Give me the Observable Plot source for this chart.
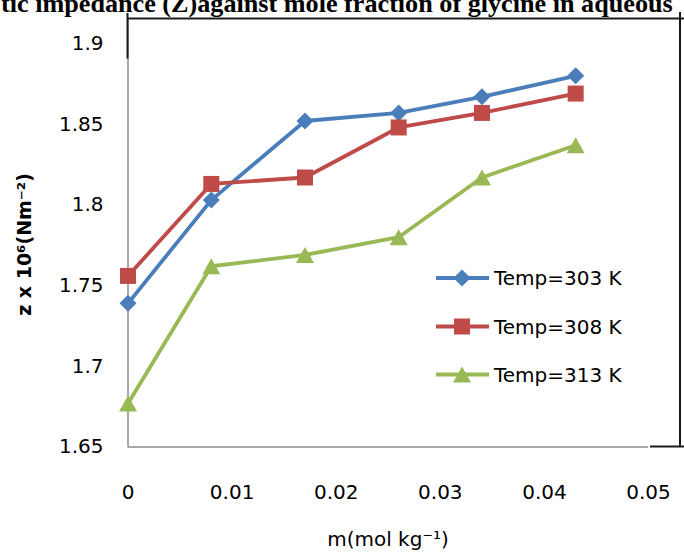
<!DOCTYPE html>
<html>
<head>
<meta charset="utf-8">
<script src="https://cdn.jsdelivr.net/npm/d3@7"></script>
<script src="https://cdn.jsdelivr.net/npm/@observablehq/plot@0.6"></script>
<style>
  body { margin: 0; background: #fff; }
  #chart { position: relative; width: 684px; height: 554px; overflow: hidden; }
</style>
</head>
<body>
<div id="chart"></div>
<script>
// Molality of glycine (mol kg^-1)
const molality = [0, 0.008, 0.017, 0.026, 0.034, 0.043];

// Acoustic impedance z x 10^6 (N m^-2) at each temperature
const z303 = [1.739, 1.803, 1.852, 1.857, 1.867, 1.880];
const z308 = [1.756, 1.813, 1.817, 1.848, 1.857, 1.869];
const z313 = [1.677, 1.762, 1.769, 1.780, 1.817, 1.837];

const seriesNames = ["Temp=303 K", "Temp=308 K", "Temp=313 K"];
const seriesColors = ["#4A7EBB", "#BE4B48", "#98B954"];

const xTicks = [0, 0.01, 0.02, 0.03, 0.04, 0.05];
const yTicks = [1.65, 1.7, 1.75, 1.8, 1.85, 1.9];

const titleText = "tic impedance (Z)against mole fraction of glycine in aqueous";
const yLabel = "z x 10\u2076(Nm\u207B\u00B2)";
const xLabel = "m(mol kg\u207B\u00B9)";

// Marker shapes, centred on their bounding box
const diamond = {draw(ctx) { const h = 8.5; ctx.moveTo(0, -h); ctx.lineTo(h, 0); ctx.lineTo(0, h); ctx.lineTo(-h, 0); ctx.closePath(); }};
const square = {draw(ctx) { const h = 8; ctx.rect(-h, -h, 2 * h, 2 * h); }};
const triangle = {draw(ctx) { ctx.moveTo(0, -8); ctx.lineTo(9, 8); ctx.lineTo(-9, 8); ctx.closePath(); }};
const symbols = [diamond, square, triangle];

const seriesValues = [z303, z308, z313];
const rows = seriesValues.flatMap((vals, i) =>
  vals.map((z, j) => ({series: seriesNames[i], m: molality[j], z}))
);

const axisGray = "#8c8c8c";
const font = "DejaVu Sans";

const plot = Plot.plot({
  width: 684,
  height: 554,
  marginLeft: 127.5,
  marginRight: 4,
  marginTop: 18.5,
  marginBottom: 107.5,
  style: {fontFamily: font, fontSize: "20px", color: "#000", background: "#fff", overflow: "visible"},
  x: {domain: [0, 0.05307], ticks: xTicks, tickSize: 0, tickPadding: 37.6, tickFormat: d => String(d), label: null},
  y: {domain: [1.65, 1.9152], ticks: yTicks, tickSize: 0, tickPadding: 24.5, tickFormat: d => String(d), label: null},
  color: {domain: seriesNames, range: seriesColors},
  marks: [
    Plot.ruleX([0], {stroke: axisGray, strokeWidth: 1.5}),
    Plot.ruleY([yTicks[0]], {x1: xTicks[0], x2: xTicks[xTicks.length - 1], stroke: axisGray, strokeWidth: 1.5}),
    Plot.line(rows, {x: "m", y: "z", z: "series", stroke: "series", strokeWidth: 3.8}),
    ...seriesNames.map((name, i) =>
      Plot.dot(rows.filter(d => d.series === name), {x: "m", y: "z", r: 7, symbol: symbols[i], fill: seriesColors[i], stroke: "none"})
    )
  ]
});

document.getElementById("chart").appendChild(plot);

const svg = d3.select(plot);
const X = plot.scale("x"), Y = plot.scale("y");
const frameLeft = X.range[0], frameRight = X.range[1];
const frameBottom = Y.range[0], frameTop = Y.range[1];

// Black outer frame pieces
const frame = svg.append("g").attr("stroke", "#1a1a1a").attr("stroke-width", 2).attr("fill", "none");
frame.append("line").attr("x1", frameLeft).attr("x2", 684).attr("y1", frameTop).attr("y2", frameTop);
frame.append("line").attr("x1", frameRight).attr("x2", frameRight).attr("y1", frameTop - 6.5).attr("y2", frameBottom);
frame.append("line").attr("x1", frameLeft).attr("x2", frameLeft).attr("y1", frameTop - 5.5).attr("y2", frameTop + 40);
frame.append("line").attr("x1", X.apply(xTicks[xTicks.length - 1]) + 2).attr("x2", 684).attr("y1", frameBottom).attr("y2", frameBottom);

// Title (partly above the top edge)
const title = svg.append("text")
  .attr("x", 1).attr("y", 12)
  .attr("text-anchor", "start")
  .attr("font-family", "Liberation Serif").attr("font-weight", "bold").attr("font-size", 26)
  .attr("fill", "#000")
  .text(titleText);
const tw = title.node().getComputedTextLength();
title.attr("font-size", 26 * 672 / tw);

// Axis titles
svg.append("text")
  .attr("transform", "translate(31,244.5) rotate(-90)")
  .attr("text-anchor", "middle")
  .attr("font-family", font).attr("font-weight", "bold").attr("font-size", 19)
  .attr("fill", "#000")
  .text(yLabel);

svg.append("text")
  .attr("x", 388).attr("y", 546)
  .attr("text-anchor", "middle")
  .attr("font-family", font).attr("font-size", 20)
  .attr("fill", "#000")
  .text(xLabel);

// Legend
const legendY = [278, 326.5, 374.5];
const legend = svg.append("g");
seriesNames.forEach((name, i) => {
  const g = legend.append("g").attr("transform", `translate(0,${legendY[i]})`);
  g.append("line").attr("x1", 436).attr("x2", 489).attr("y1", 0).attr("y2", 0)
    .attr("stroke", seriesColors[i]).attr("stroke-width", 3.8);
  g.append("path").attr("transform", "translate(462,0)")
    .attr("d", d3.symbol(symbols[i])())
    .attr("fill", seriesColors[i]);
  g.append("text").attr("x", 494).attr("y", 0).attr("dy", "0.36em")
    .attr("text-anchor", "start")
    .attr("font-family", font).attr("font-size", 20).attr("fill", "#000")
    .text(name);
});
</script>
</body>
</html>
